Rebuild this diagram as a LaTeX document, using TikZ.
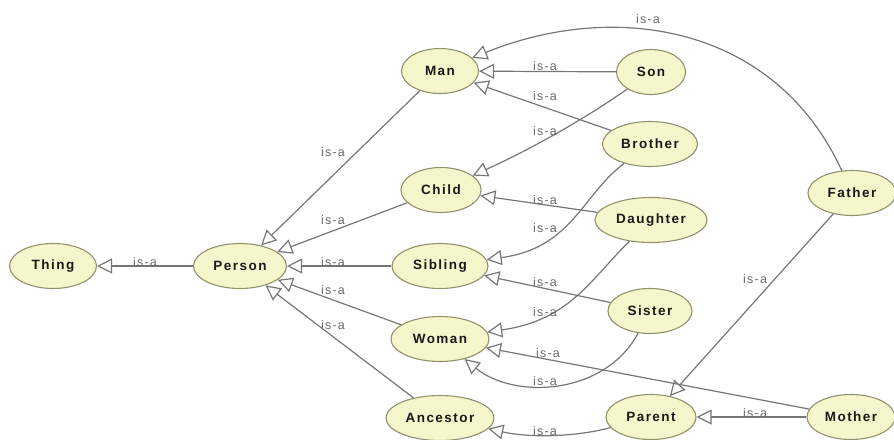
\documentclass[tikz,border=0pt]{standalone}
\usepackage{fontspec}
\usetikzlibrary{shapes.geometric,arrows.meta}
\newfontfamily\clsfont[LetterSpace=11]{Liberation Sans}
\newfontfamily\relfont[LetterSpace=10]{Liberation Sans}
\definecolor{clsfill}{RGB}{246,246,204}
\definecolor{clsdraw}{RGB}{145,145,108}
\definecolor{reledge}{RGB}{118,118,118}
\definecolor{reltext}{RGB}{105,105,105}
\definecolor{clstext}{RGB}{25,25,25}
\begin{document}
\begin{tikzpicture}[x=1pt,y=-1pt,
  cls/.style={ellipse, draw=clsdraw, line width=1.1pt, fill=clsfill, inner sep=0pt,
    minimum height=45pt, text=clstext, font=\clsfont\bfseries\fontsize{13.5}{15}\selectfont},
  isa/.style={draw=reledge, line width=1.2pt, -{Triangle[open, length=15pt, width=15pt]}},
  rel/.style={text=reltext, font=\relfont\fontsize{12.5}{14}\selectfont, inner sep=0pt}]
\useasboundingbox (0,0) rectangle (894,439);

% classes
\node[cls, minimum width=87pt]  (Thing)    at (53,266)  {Thing};
\node[cls, minimum width=93pt]  (Person)   at (240,266) {Person};
\node[cls, minimum width=77pt]  (Man)      at (440,71)  {Man};
\node[cls, minimum width=69pt]  (Son)      at (651,72)  {Son};
\node[cls, minimum width=95pt]  (Brother)  at (650,144) {Brother};
\node[cls, minimum width=80pt]  (Child)    at (441,190) {Child};
\node[cls, minimum width=88pt]  (Father)   at (852,193) {Father};
\node[cls, minimum width=112pt] (Daughter) at (651,220) {Daughter};
\node[cls, minimum width=96pt]  (Sibling)  at (440,266) {Sibling};
\node[cls, minimum width=84pt]  (Sister)   at (650,311) {Sister};
\node[cls, minimum width=98pt]  (Woman)    at (440,339) {Woman};
\node[cls, minimum width=108pt] (Ancestor) at (440,418) {Ancestor};
\node[cls, minimum width=90pt]  (Parent)   at (651,417) {Parent};
\node[cls, minimum width=88pt]  (Mother)   at (851,417) {Mother};

% is-a relations
\draw[isa] (Person) -- (Thing);
\draw[isa] (Man) -- (Person);
\draw[isa] (Child) -- (Person);
\draw[isa] (Sibling) -- (Person);
\draw[isa] (Woman) -- (Person);
\draw[isa] (Ancestor) -- (Person);
\draw[isa] (Son) -- (Man);
\draw[isa] (Brother) -- (Man);
\draw[isa] (Son) .. controls (595,112) and (540,145) .. (Child);
\draw[isa] (Daughter) -- (Child);
\draw[isa] (Brother) .. controls (582,195) and (572,248) .. (Sibling);
\draw[isa] (Sister) -- (Sibling);
\draw[isa] (Daughter) .. controls (590,280) and (570,320) .. (Woman);
\draw[isa] (Sister) .. controls (605,395) and (515,400) .. (Woman);
\draw[isa] (Mother) -- (Woman);
\draw[isa] (Father) .. controls (775,25) and (615,0) .. (Man);
\draw[isa] (Father) -- (Parent);
\draw[isa] (Mother) -- (Parent);
\draw[isa] (Parent) .. controls (575,437) and (530,438) .. (Ancestor);

% relation labels
\node[rel] (lPT)  at (145,262) {is-a};
\node[rel] (lMP)  at (333,152) {is-a};
\node[rel] (lCP)  at (333,220) {is-a};
\node[rel] (lSiP) at (333,262) {is-a};
\node[rel] (lWP)  at (333,290) {is-a};
\node[rel] (lAP)  at (333,325) {is-a};
\node[rel] (lSM)  at (545,66)  {is-a};
\node[rel] (lBM)  at (545,96)  {is-a};
\node[rel] (lSC)  at (545,131) {is-a};
\node[rel] (lDC)  at (545,200) {is-a};
\node[rel] (lBS)  at (545,228) {is-a};
\node[rel] (lSS)  at (545,282) {is-a};
\node[rel] (lDW)  at (545,312) {is-a};
\node[rel] (lMW)  at (548,353) {is-a};
\node[rel] (lSW)  at (545,381) {is-a};
\node[rel] (lPA)  at (545,431) {is-a};
\node[rel] (lFM)  at (648,19)  {is-a};
\node[rel] (lFP)  at (755,279) {is-a};
\node[rel] (lMoP) at (755,413) {is-a};
\end{tikzpicture}
\end{document}
